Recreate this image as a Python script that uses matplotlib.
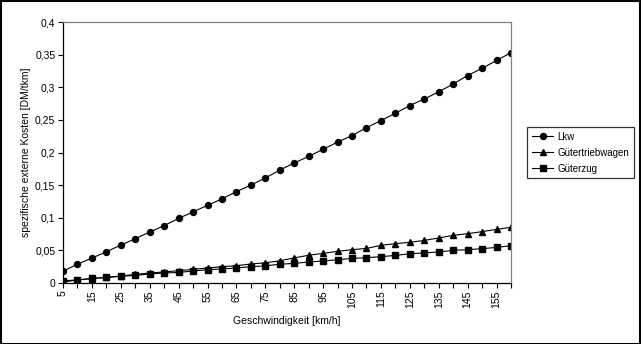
import matplotlib
matplotlib.use("Agg")
import matplotlib.pyplot as plt
from matplotlib.patches import Rectangle

plt.rcParams['font.family'] = ['Liberation Sans', 'DejaVu Sans']

speeds = list(range(5, 161, 5))
lkw = [0.018, 0.029, 0.038, 0.048, 0.058, 0.068, 0.078, 0.088, 0.099, 0.109,
       0.119, 0.129, 0.140, 0.150, 0.161, 0.173, 0.184, 0.194, 0.205, 0.216,
       0.226, 0.238, 0.249, 0.260, 0.272, 0.282, 0.293, 0.305, 0.318, 0.329,
       0.341, 0.353]
triebwagen = [0.0015, 0.0046, 0.0066, 0.0086, 0.0107, 0.0132, 0.0153, 0.0169,
              0.0189, 0.0209, 0.0230, 0.0250, 0.0265, 0.0291, 0.0310, 0.0340,
              0.0385, 0.0425, 0.0454, 0.0485, 0.0511, 0.0530, 0.0577, 0.0603,
              0.0623, 0.0653, 0.0690, 0.0730, 0.0756, 0.0787, 0.0822, 0.0853]
gueterzug = [0.0035, 0.0046, 0.0071, 0.0086, 0.0102, 0.0117, 0.0138, 0.0153,
             0.0162, 0.0184, 0.0204, 0.0215, 0.0230, 0.0250, 0.0262, 0.0288,
             0.0300, 0.0322, 0.0337, 0.0357, 0.0377, 0.0388, 0.0403, 0.0423,
             0.0449, 0.0460, 0.0476, 0.0500, 0.0511, 0.0526, 0.0546, 0.0572]
series_names = ["Lkw", "Gütertriebwagen", "Güterzug"]
y_ticks = [0, 0.05, 0.1, 0.15, 0.2, 0.25, 0.3, 0.35, 0.4]
y_tick_labels = ["0", "0,05", "0,1", "0,15", "0,2", "0,25", "0,3", "0,35", "0,4"]

W, H = 641, 344
fig = plt.figure(figsize=(W / 100, H / 100), dpi=100)
ax = fig.add_axes([63 / W, (H - 283) / H, 448 / W, 261 / H])

pos = list(range(len(speeds)))
style = dict(color="black", linewidth=0.8)
ax.plot(pos, lkw, marker="o", markersize=4.3, label=series_names[0], **style)
ax.plot(pos, triebwagen, marker="^", markersize=4.8, label=series_names[1], **style)
ax.plot(pos, gueterzug, marker="s", markersize=4.0, label=series_names[2], **style)

ax.set_xlim(0, len(speeds) - 1)
ax.set_ylim(0, 0.4)
ax.set_yticks(y_ticks)
ax.set_yticklabels(y_tick_labels, fontsize=7.5)
ax.set_xticks(pos)
ax.set_xticklabels([str(s) if i % 2 == 0 else "" for i, s in enumerate(speeds)],
                   rotation=90, fontsize=7.5)
ax.tick_params(axis="both", direction="out", length=3.5, width=0.8, color="black", pad=2)

for side in ("top", "right"):
    ax.spines[side].set_color("#808080")
    ax.spines[side].set_linewidth(0.9)
for side in ("left", "bottom"):
    ax.spines[side].set_color("black")
    ax.spines[side].set_linewidth(0.9)

ax.set_xlabel("Geschwindigkeit [km/h]", fontsize=7.5, labelpad=6)
ax.set_ylabel("spezifische externe Kosten [DM/tkm]", fontsize=7.5, labelpad=3)

leg = fig.legend(loc="upper left", bbox_to_anchor=(527 / W, 1 - 127 / H),
                 borderaxespad=0, fontsize=7, frameon=True, fancybox=False,
                 edgecolor="black", handlelength=2.2, borderpad=0.5,
                 labelspacing=0.6, handletextpad=0.4)
leg.get_frame().set_linewidth(0.9)

fig.patches.append(Rectangle((0.5 / W, 0.5 / H), 1 - 1.5 / W, 1 - 1.5 / H,
                             transform=fig.transFigure, fill=False,
                             edgecolor="black", linewidth=1.5))

fig.savefig("out.png", dpi=100)
